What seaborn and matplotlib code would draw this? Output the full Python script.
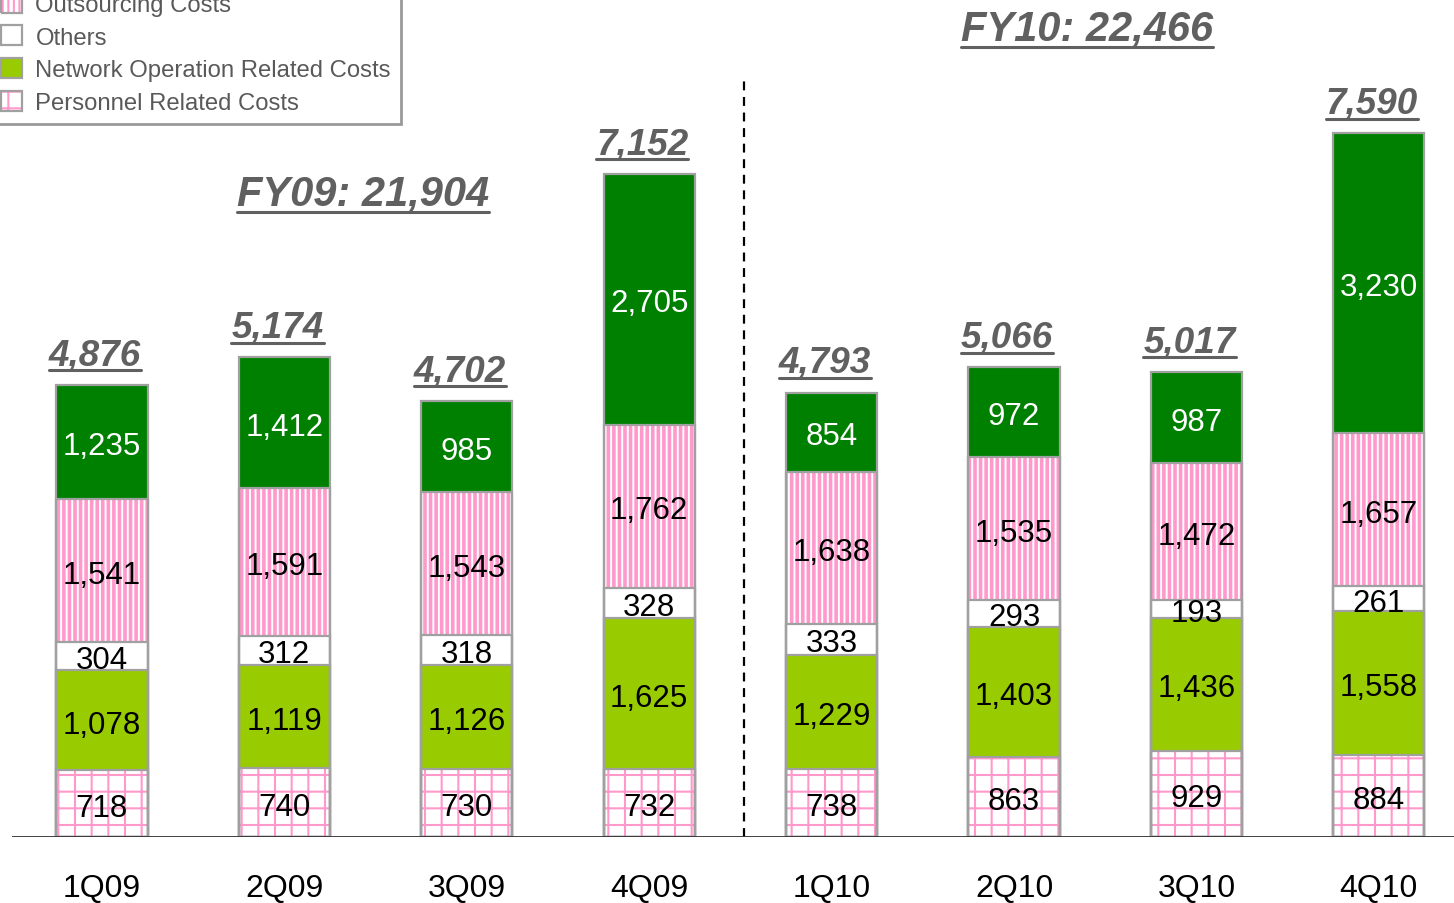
import matplotlib
matplotlib.use("Agg")
import matplotlib.pyplot as plt
import matplotlib.patches as mpatches
from matplotlib.legend_handler import HandlerTuple
from matplotlib.lines import Line2D
import seaborn as sns
import numpy as np

# ---------------- data ----------------
quarters = ["1Q09", "2Q09", "3Q09", "4Q09", "1Q10", "2Q10", "3Q10", "4Q10"]
personnel = [718, 740, 730, 732, 738, 863, 929, 884]
network = [1078, 1119, 1126, 1625, 1229, 1403, 1436, 1558]
others = [304, 312, 318, 328, 333, 293, 193, 261]
outsourcing = [1541, 1591, 1543, 1762, 1638, 1535, 1472, 1657]
top_costs = [1235, 1412, 985, 2705, 854, 972, 987, 3230]
totals = [4876, 5174, 4702, 7152, 4793, 5066, 5017, 7590]
fy_labels = ["FY09: 21,904", "FY10: 22,466"]
legend_labels = ["Outsourcing Costs", "Others", "Network Operation Related Costs",
                 "Personnel Related Costs"]

# ---------------- style ----------------
sns.set_style("white")
plt.rcParams["font.family"] = ["Liberation Sans", "DejaVu Sans"]
plt.rcParams["hatch.linewidth"] = 1.5

PINK = "#ff99cc"
DKGREEN = "#008000"
LTGREEN = "#99cc00"
EDGE = "#a0a0a0"
GRAYTXT = "#606060"
HATCH_LW = {"|||": 2.6, "+": 1.5}

W, H = 1454, 904
fig = plt.figure(figsize=(W / 100, H / 100), dpi=100)
ax = fig.add_axes([12 / W, 66 / H, (W - 12) / W, 838 / H])

layers = [
    ("personnel", personnel, "white", "+"),
    ("network", network, LTGREEN, None),
    ("others", others, "white", None),
    ("outsourcing", outsourcing, "white", "|||"),
    ("top", top_costs, DKGREEN, None),
]
vals = np.array([l[1] for l in layers], dtype=float)
cum = np.cumsum(vals, axis=0)
bw = 0.5


def style_fill(p, col, hatch):
    p.set_facecolor(col)
    p.set_edgecolor(PINK if hatch else col)
    p.set_linewidth(0)
    if hatch:
        p.set_hatch(hatch)
        if hasattr(p, "set_hatch_linewidth"):
            p.set_hatch_linewidth(HATCH_LW[hatch])


# fills: draw cumulative bars from the top layer down
for i in range(len(layers) - 1, -1, -1):
    name, v, col, hatch = layers[i]
    n0 = len(ax.patches)
    sns.barplot(x=quarters, y=cum[i], order=quarters, color=col, saturation=1,
                width=bw, errorbar=None, ax=ax, linewidth=0,
                edgecolor=PINK if hatch else col, hatch=hatch)
    for p in ax.patches[n0:]:
        style_fill(p, col, hatch)

# borders
for i in range(len(layers)):
    sns.barplot(x=quarters, y=cum[i], order=quarters, color=EDGE, fill=False,
                width=bw, errorbar=None, ax=ax, linewidth=1.6)

# segment labels
xs = np.arange(len(quarters))
for i, (name, v, col, hatch) in enumerate(layers):
    bottoms = cum[i] - vals[i]
    for x, b, val in zip(xs, bottoms, v):
        ax.annotate(f"{val:,}", (x, b + val / 2), xytext=(0, -3),
                    textcoords="offset points", ha="center", va="center",
                    fontsize=22.5, color="white" if col == DKGREEN else "black")

# total labels
underline_texts = []
for x, t in zip(xs, totals):
    tx = ax.annotate(f"{t:,}", (x, t), xytext=(-5, 9), textcoords="offset points",
                     ha="center", va="bottom", fontsize=26.5, fontweight="bold",
                     fontstyle="italic", color=GRAYTXT)
    underline_texts.append(tx)

# fiscal year labels
fy1 = ax.text(1.43, 6933, fy_labels[0], ha="center", va="center", fontsize=30,
              fontweight="bold", fontstyle="italic", color=GRAYTXT)
fy2 = ax.text(5.40, 8712, fy_labels[1], ha="center", va="center", fontsize=30,
              fontweight="bold", fontstyle="italic", color=GRAYTXT)
underline_texts += [fy1, fy2]

# divider and baseline
ax.vlines(3.52, 0, 8194, colors="black", linestyles=(0, (4, 3)), linewidth=1.6)
ax.axhline(0, color="#333333", linewidth=1.3)

ax.set_xlim(-0.493, 7.412)
ax.set_ylim(0, 838 / 0.09275)
ax.set_xlabel("")
ax.set_ylabel("")
ax.set_yticks([])
ax.tick_params(axis="x", length=0, pad=26, labelsize=23, labelcolor="black")
for s in ax.spines.values():
    s.set_visible(False)


# legend
def hp(face, hatch):
    fillp = mpatches.Patch(facecolor=face, edgecolor=PINK if hatch else face,
                           hatch=hatch, linewidth=0)
    border = mpatches.Patch(facecolor="none", edgecolor=EDGE, linewidth=1.6)
    return (fillp, border)


handles = [hp("white", "|||"), hp("white", None), hp(LTGREEN, None), hp("white", "+")]
leg = fig.legend(handles, legend_labels, loc="lower right",
                 bbox_to_anchor=(401 / W, (H - 125) / H), borderaxespad=0,
                 fontsize=17.2, frameon=True, fancybox=False, borderpad=0.42,
                 labelspacing=0.4, handlelength=0.9, handleheight=0.9,
                 handletextpad=0.55, labelcolor="#595959",
                 handler_map={tuple: HandlerTuple(ndivide=1, pad=0)})
leg.get_frame().set_edgecolor("#808080")
leg.get_frame().set_linewidth(2)

# underlines
fig.canvas.draw()
renderer = fig.canvas.get_renderer()
inv = fig.transFigure.inverted()
for t in underline_texts:
    bb = t.get_window_extent(renderer)
    y = bb.y0 + 2
    (x0, yy), (x1, _) = inv.transform([(bb.x0, y), (bb.x1, y)])
    fig.add_artist(Line2D([x0, x1], [yy, yy], transform=fig.transFigure,
                          color=GRAYTXT, linewidth=2.2))

fig.savefig("out.png", dpi=100)
